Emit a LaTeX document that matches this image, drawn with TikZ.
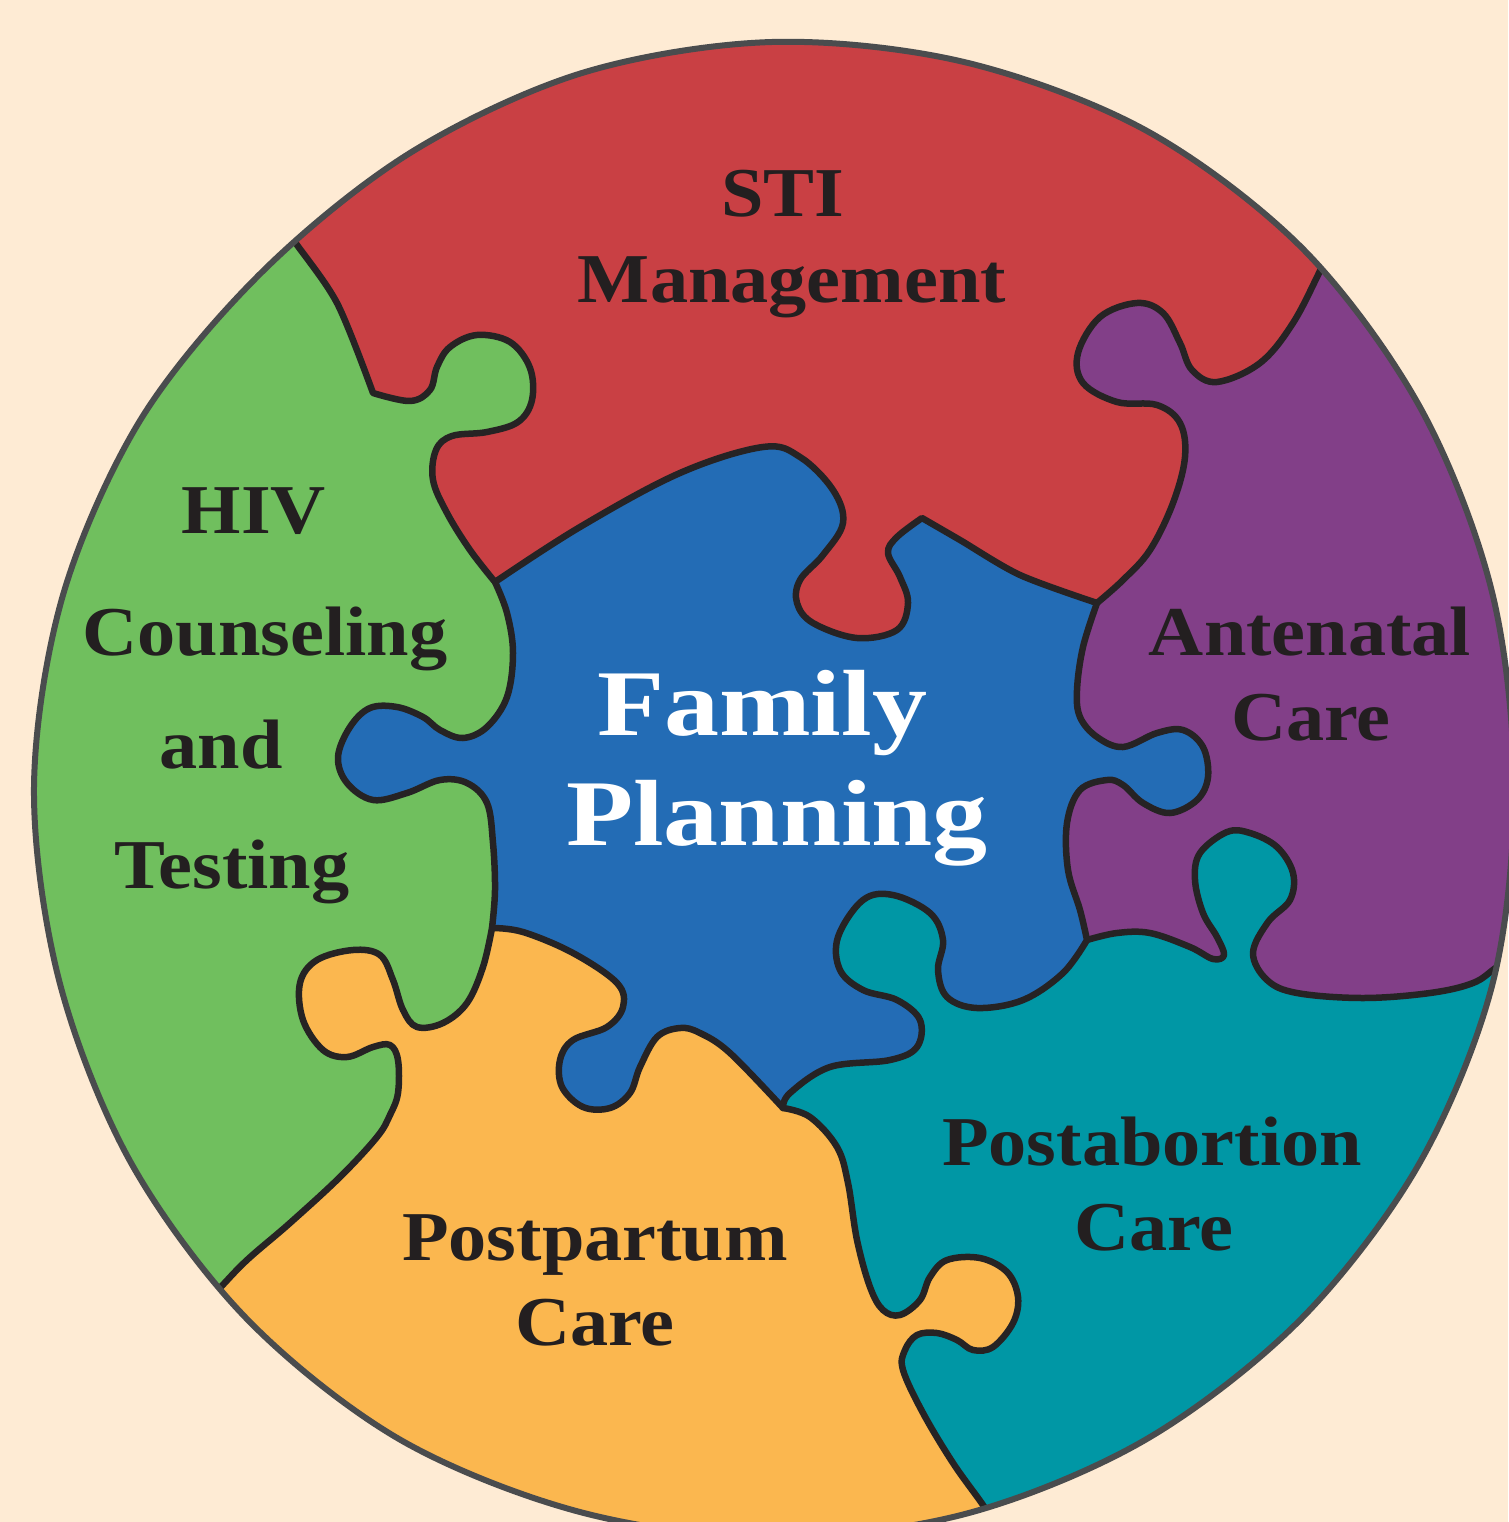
\documentclass[tikz,border=0pt]{standalone}
\usepackage{fontspec}
\setmainfont{Liberation Serif}
\newfontfamily\lblfont{Liberation Serif}[FakeStretch=1.09]
\newfontfamily\bigfont{Liberation Serif}[FakeStretch=1.17]
\definecolor{bgC}{HTML}{FEEBD4}
\definecolor{cRed}{HTML}{C94044}
\definecolor{cGreen}{HTML}{70BF5E}
\definecolor{cBlue}{HTML}{236CB5}
\definecolor{cPurple}{HTML}{823F88}
\definecolor{cTeal}{HTML}{0097A5}
\definecolor{cOrange}{HTML}{FBB74F}
\definecolor{lineC}{HTML}{262324}
\definecolor{outC}{HTML}{4A4C4E}
\definecolor{textC}{HTML}{231F20}
\newcommand\myExpand[1]{\edef\myTmp{#1}\myTmp}
\tikzset{
  bnd/.style={draw=lineC, line width=6.5pt, line join=round, line cap=round},
  outl/.style={draw=outC, line width=6pt},
  lbl/.style={font=\lblfont\fontsize{70}{80}\selectfont\bfseries, text=textC, inner sep=0pt, anchor=base},
  big/.style={font=\bigfont\fontsize{94}{100}\selectfont\bfseries, text=white, inner sep=0pt, anchor=base}
}
\def\OUT{plot[smooth cycle, tension=0.55] coordinates {(1514,787) (1493,982) (1419,1164) (1300,1320) (1145,1440) (965,1514) (772,1538) (580,1512) (399,1439) (246,1318) (130,1161) (59,980) (34,787) (63,595) (141,419) (262,272) (410,153) (582,73) (772,42) (964,62) (1147,131) (1304,250) (1421,409) (1492,592)}}
\def\RG{plot[smooth,tension=0.5] coordinates {(250,178) (292,238) (337,303) (373,393)} -- plot[smooth,tension=0.6] coordinates {(373,393) (410,401) (430,390) (437,367) (450,347) (477,335) (510,342) (530,368) (532,400) (518,422) (487,432) (452,436) (436,450) (433,480) (447,513) (470,550) (495,582)}}
\def\RP{plot[smooth,tension=0.6] coordinates {(1345,222) (1322,267) (1293,323) (1260,363) (1217,382) (1192,370) (1180,343) (1163,313) (1137,303) (1100,317) (1078,353) (1083,383) (1117,402) (1157,405) (1180,423) (1185,457) (1173,503) (1150,550) (1123,580) (1097,603)}}
\def\PT{plot[smooth,tension=0.6] coordinates {(1087,940) (1117,933) (1150,933) (1190,947) (1213,959) (1224,955) (1217,937) (1203,913) (1195,880) (1200,853) (1227,832) (1250,833) (1277,847) (1293,873) (1290,900) (1268,922) (1253,953) (1267,980) (1297,993) (1363,998) (1430,993) (1473,983) (1497,967) (1530,945)}}
\def\TO{plot[smooth,tension=0.6] coordinates {(783,1108) (810,1117) (837,1147) (848,1183) (857,1240) (870,1287) (883,1310) (900,1315) (920,1300) (930,1277) (947,1260) (980,1258) (1007,1272) (1018,1297) (1013,1323) (993,1347) (973,1350) (957,1340) (937,1333) (917,1335) (905,1350) (903,1370) (923,1413) (953,1463) (983,1505) (995,1525)}}
\def\OG{plot[smooth,tension=0.6] coordinates {(492,928) (483,967) (467,1003) (443,1023) (417,1027) (403,1010) (393,980) (380,955) (353,950) (317,960) (300,983) (303,1020) (323,1050) (347,1057) (373,1047) (390,1045) (398,1060) (398,1093) (390,1115) (377,1137) (340,1177) (290,1223) (247,1260) (218,1290) (180,1330)}}
\def\BL{plot[smooth,tension=0.6] coordinates {(495,582) (580,527) (680,473) (763,447) (800,457) (833,490) (843,523) (823,555) (800,580) (797,603) (813,623) (857,638) (897,630) (908,603) (900,577) (888,553) (897,537) (922,518)} -- plot[smooth] coordinates {(922,518) (960,540) (1020,575) (1097,603)} -- plot[smooth,tension=0.6] coordinates {(1097,603) (1083,647) (1077,690) (1080,717) (1097,737) (1123,747) (1157,733) (1183,730) (1203,747) (1208,777) (1197,800) (1170,813) (1143,803) (1123,785) (1107,780) (1080,790) (1067,823) (1068,870) (1080,910) (1087,940)} -- plot[smooth,tension=0.6] coordinates {(1087,940) (1063,973) (1023,1000) (977,1008) (947,997) (938,970) (943,940) (930,913) (893,895) (863,900) (838,937) (840,970) (863,990) (897,1000) (920,1020) (917,1047) (890,1060) (830,1067) (790,1093) (783,1108)} -- plot[smooth,tension=0.6] coordinates {(783,1108) (730,1053) (700,1033) (680,1028) (657,1037) (640,1067) (630,1093) (610,1108) (583,1107) (562,1087) (560,1060) (573,1040) (607,1027) (623,1007) (617,983) (573,953) (523,932) (492,928)} -- plot[smooth,tension=0.6] coordinates {(492,928) (495,890) (493,843) (487,803) (467,783) (440,780) (407,793) (373,800) (347,783) (338,757) (350,727) (370,708) (397,707) (423,717) (440,730) (463,738) (487,727) (507,697) (513,653) (507,613) (495,582)}}
\begin{document}
\begin{tikzpicture}[x=1pt,y=-1pt]
\fill[bgC] (0,0) rectangle (1508,1522);
\useasboundingbox (0,0) rectangle (1508,1522);
\begin{scope}
\myExpand{\noexpand\clip \OUT;}
\fill[cGreen] (0,0) rectangle (1508,1522);
\myExpand{\noexpand\fill[cRed] \RG -- (700,700) -- (1700,700) -- (1700,-100) -- (200,-100) -- cycle;}
\myExpand{\noexpand\fill[cOrange] \OG -- (100,1500) -- (900,1700) -- (1150,1700) -- (1100,1250) -- (900,1100) -- (700,980) -- (560,900) -- cycle;}
\myExpand{\noexpand\fill[cTeal] \TO -- (1000,1570) -- (1700,1700) -- (1700,800) -- (1150,800) -- (820,870) -- cycle;}
\myExpand{\noexpand\fill[cPurple] \RP -- (1000,770) -- \PT -- (1700,960) -- (1700,100) -- cycle;}
\myExpand{\noexpand\fill[cBlue] \BL -- cycle;}
\myExpand{\noexpand\draw[bnd] \RG;}
\myExpand{\noexpand\draw[bnd] \RP;}
\myExpand{\noexpand\draw[bnd] \PT;}
\myExpand{\noexpand\draw[bnd] \TO;}
\myExpand{\noexpand\draw[bnd] \OG;}
\myExpand{\noexpand\draw[bnd] \BL -- cycle;}
\end{scope}
\myExpand{\noexpand\draw[outl] \OUT;}
\node[lbl] (sti) at (783,217) {STI};
\node[lbl] (mgmt) at (792,302) {Management};
\node[lbl] (hiv) at (254,533) {HIV};
\node[lbl] (couns) at (265,655) {Counseling};
\node[lbl] (and) at (221,768) {and};
\node[lbl] (test) at (232,888) {Testing};
\node[lbl] (ante) at (1310,655) {Antenatal};
\node[lbl] (care1) at (1311,740) {Care};
\node[big] (fam) at (762,735) {Family};
\node[big] (plan) at (777,845) {Planning};
\node[lbl] (posta) at (1152,1165) {Postabortion};
\node[lbl] (care2) at (1154,1250) {Care};
\node[lbl] (postp) at (595,1260) {Postpartum};
\node[lbl] (care3) at (595,1345) {Care};
\end{tikzpicture}
\end{document}
